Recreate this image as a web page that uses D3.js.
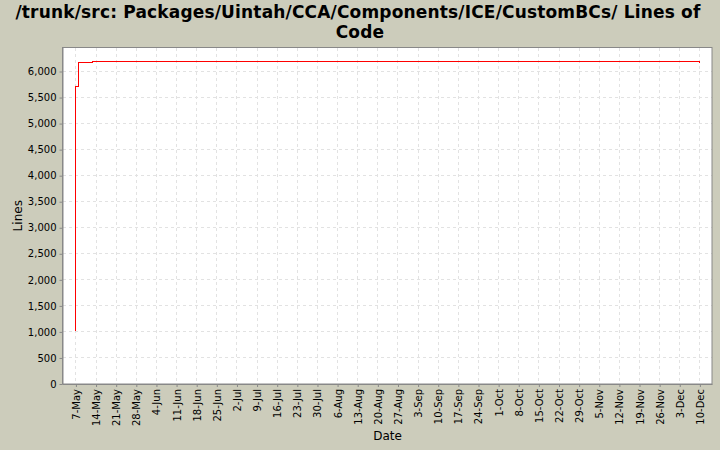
<!DOCTYPE html>
<html>
<head>
<meta charset="utf-8">
<script src="https://cdn.jsdelivr.net/npm/d3@7"></script>
<style>
    html, body {margin: 0; padding: 0; background: #ccccbb;}
    svg {display: block;}
    text {font-family: "DejaVu Sans", sans-serif; fill: #000;}
</style>
</head>
<body>
<div id="chart"></div>
<script>
//Configurables
const width = 720;
const height = 450;
const margin = {top: 47.5, right: 8, bottom: 66, left: 62.5};

//Data
const titleLines = ['/trunk/src: Packages/Uintah/CCA/Components/ICE/CustomBCs/ Lines of', 'Code'];
const xLabel = 'Date';
const yLabel = 'Lines';
const lineDates = ['2007-05-06T20:00', '2007-05-06T21:00', '2007-05-07T21:00', '2007-05-12T16:00', '2007-12-09T16:00', '2007-12-09T17:00'];
const lineValues = [1020, 5720, 6180, 6190, 6190, 6165];
const xTickDates = ['2007-05-07', '2007-05-14', '2007-05-21', '2007-05-28', '2007-06-04', '2007-06-11', '2007-06-18', '2007-06-25',
    '2007-07-02', '2007-07-09', '2007-07-16', '2007-07-23', '2007-07-30', '2007-08-06', '2007-08-13', '2007-08-20', '2007-08-27',
    '2007-09-03', '2007-09-10', '2007-09-17', '2007-09-24', '2007-10-01', '2007-10-08', '2007-10-15', '2007-10-22', '2007-10-29',
    '2007-11-05', '2007-11-12', '2007-11-19', '2007-11-26', '2007-12-03', '2007-12-10'];
const yTicks = [0, 500, 1000, 1500, 2000, 2500, 3000, 3500, 4000, 4500, 5000, 5500, 6000];
const xDomain = ['2007-05-02T08:00', '2007-12-14T05:00'];
const yDomain = [0, 6461];

const parseDate = d3.timeParse('%Y-%m-%dT%H:%M');
const parseDay = d3.timeParse('%Y-%m-%d');
const fmtDay = d3.timeFormat('%-d-%b');

const svg = d3.select('#chart').append('svg')
    .attr('width', width)
    .attr('height', height);

svg.append('rect')
    .attr('width', width)
    .attr('height', height)
    .attr('fill', '#ccccbb');

const innerW = width - margin.left - margin.right;
const innerH = height - margin.top - margin.bottom;

const x = d3.scaleTime().domain(xDomain.map(parseDate)).range([margin.left, margin.left + innerW]);
const y = d3.scaleLinear().domain(yDomain).range([margin.top + innerH, margin.top]);

//title, second line sits a little right of the first
svg.append('g').selectAll('text')
    .data(titleLines)
    .enter()
    .append('text')
    .attr('x', (d, i) => i ? 360 : 358)
    .attr('y', (d, i) => 18 + i * 20)
    .attr('text-anchor', 'middle')
    .attr('font-size', 17)
    .attr('letter-spacing', 0.17)
    .attr('font-weight', 'bold')
    .text(d => d);

//plot background
svg.append('rect')
    .attr('x', margin.left)
    .attr('y', margin.top)
    .attr('width', innerW)
    .attr('height', innerH)
    .attr('fill', '#fff');

//grid
const xTicks = xTickDates.map(parseDay);
const grid = svg.append('g')
    .attr('stroke', '#e2e2e2')
    .attr('stroke-dasharray', '3,3')
    .attr('shape-rendering', 'crispEdges');

grid.selectAll('line.gx')
    .data(xTicks)
    .enter()
    .append('line')
    .attr('x1', d => x(d))
    .attr('x2', d => x(d))
    .attr('y1', margin.top)
    .attr('y2', margin.top + innerH);

grid.selectAll('line.gy')
    .data(yTicks)
    .enter()
    .append('line')
    .attr('x1', margin.left)
    .attr('x2', margin.left + innerW)
    .attr('y1', d => y(d))
    .attr('y2', d => y(d));

//axes
const xAxis = svg.append('g')
    .attr('transform', `translate(0,${margin.top + innerH})`)
    .call(d3.axisBottom(x).tickValues(xTicks).tickFormat(fmtDay).tickSize(3).tickSizeOuter(0));

xAxis.selectAll('text')
    .attr('transform', 'rotate(-90)')
    .attr('x', -5)
    .attr('y', 0)
    .attr('dy', '0.35em')
    .attr('text-anchor', 'end')
    .attr('font-size', 10);

const yAxis = svg.append('g')
    .attr('transform', `translate(${margin.left},0)`)
    .call(d3.axisLeft(y).tickValues(yTicks).tickFormat(d3.format(',')).tickSize(3).tickSizeOuter(0));

yAxis.selectAll('text')
    .attr('x', -6)
    .attr('font-size', 10);

svg.selectAll('.domain').attr('stroke', '#888');
svg.selectAll('.tick line').attr('stroke', '#888');
svg.selectAll('.tick text').style('font-family', '"DejaVu Sans", sans-serif').attr('fill', '#000');

//plot border
svg.append('rect')
    .attr('x', margin.left)
    .attr('y', margin.top)
    .attr('width', innerW)
    .attr('height', innerH)
    .attr('fill', 'none')
    .attr('stroke', '#888');

//axis labels
svg.append('text')
    .attr('x', 387.5)
    .attr('y', 440)
    .attr('text-anchor', 'middle')
    .attr('font-size', 12)
    .text(xLabel);

svg.append('text')
    .attr('transform', `translate(22,${margin.top + innerH / 2}) rotate(-90)`)
    .attr('text-anchor', 'middle')
    .attr('font-size', 12)
    .text(yLabel);

//the line
const lineData = lineDates.map((d, i) => ({date: parseDate(d), value: lineValues[i]}));
const line = d3.line()
    .x(d => x(d.date))
    .y(d => y(d.value))
    .curve(d3.curveStepAfter);

svg.append('path')
    .datum(lineData)
    .attr('fill', 'none')
    .attr('stroke', '#f00')
    .attr('stroke-width', 1)
    .attr('shape-rendering', 'crispEdges')
    .attr('d', line);
</script>
</body>
</html>
